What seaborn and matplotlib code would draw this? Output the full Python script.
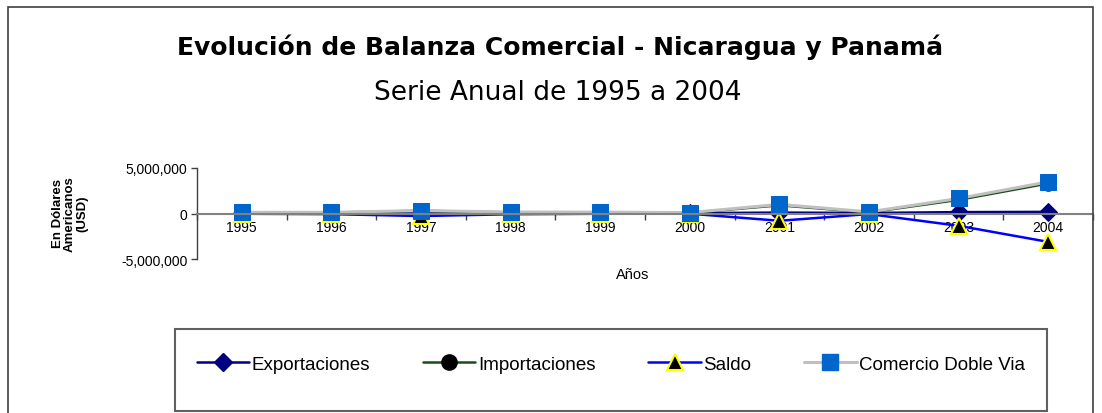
import matplotlib
matplotlib.use("Agg")
import matplotlib.pyplot as plt
import seaborn as sns
import pandas as pd
import numpy as np
from matplotlib.patches import Rectangle
from matplotlib.lines import Line2D
from matplotlib.ticker import FuncFormatter, FixedLocator

years = ["1995", "1996", "1997", "1998", "1999", "2000", "2001", "2002", "2003", "2004"]
exportaciones = [50000, 30000, 20000, 40000, 60000, 40000, 100000, 60000, 150000, 180000]
importaciones = [80000, 100000, 300000, 120000, 90000, 60000, 900000, 120000, 1500000, 3300000]
saldo = [-30000, -70000, -280000, -80000, -30000, -20000, -800000, -60000, -1350000, -3120000]
comercio = [130000, 130000, 320000, 160000, 150000, 100000, 1000000, 180000, 1650000, 3480000]

title = "Evolución de Balanza Comercial - Nicaragua y Panamá"
subtitle = "Serie Anual de 1995 a 2004"
ylabel = "En Dólares\nAmericanos\n(USD)"
xlabel = "Años"

sns.set_theme(style="white")
plt.rcParams['font.family'] = ['Liberation Sans', 'DejaVu Sans']
plt.rcParams['text.color'] = 'black'
plt.rcParams['xtick.color'] = 'black'
plt.rcParams['ytick.color'] = 'black'

W, H = 1102, 414
fig = plt.figure(figsize=(W / 100, H / 100), dpi=100)
ax = fig.add_axes([197 / W, 1 - 260 / H, (1093 - 197) / W, (260 - 169) / H])

df = pd.DataFrame({"Año": years, "Exportaciones": exportaciones, "Importaciones": importaciones,
                   "Saldo": saldo, "Comercio Doble Via": comercio})
df["x"] = np.arange(len(years))

series = [
    ("Exportaciones", dict(color="#000080", marker="D", markersize=9, markerfacecolor="#000080",
                           markeredgecolor="#000080", linewidth=1.8)),
    ("Importaciones", dict(color="#1a4d1a", marker="o", markersize=11, markerfacecolor="black",
                           markeredgecolor="black", linewidth=1.8)),
    ("Saldo", dict(color="#0000FF", marker="^", markersize=12, markerfacecolor="black",
                   markeredgecolor="#FFFF00", markeredgewidth=1.5, linewidth=1.8)),
    ("Comercio Doble Via", dict(color="#C0C0C0", marker="s", markersize=11.5, markerfacecolor="#0066CC",
                                markeredgecolor="#0066CC", linewidth=2.2)),
]
handles = []
for name, st in series:
    sns.lineplot(data=df, x="x", y=name, ax=ax, label=None, legend=False, **st)
    handles.append(Line2D([], [], label=name, **st))

ax.set_xlim(-0.5, len(years) - 0.5)
ax.set_ylim(-5000000, 5000000)
ax.set_yticks([-5000000, 0, 5000000])
ax.yaxis.set_major_formatter(FuncFormatter(lambda v, p: f"{int(v):,}"))

for s in ["top", "right"]:
    ax.spines[s].set_visible(False)
ax.spines["bottom"].set_position(("data", 0))
ax.spines["bottom"].set_color("#808080")
ax.spines["bottom"].set_linewidth(1.5)
ax.spines["left"].set_color("#404040")
ax.spines["left"].set_linewidth(1.0)

ax.xaxis.set_major_locator(FixedLocator(np.arange(len(years) + 1) - 0.5))
ax.xaxis.set_minor_locator(FixedLocator(np.arange(len(years))))
ax.xaxis.set_major_formatter(FuncFormatter(lambda v, p: ""))
ax.xaxis.set_minor_formatter(FuncFormatter(lambda v, p: years[int(round(v))] if 0 <= round(v) < len(years) else ""))
ax.tick_params(axis="x", which="major", direction="out", length=4, color="#404040", width=1, bottom=True)
ax.tick_params(axis="x", which="minor", length=0, labelsize=10, pad=5, labelcolor="black")
ax.tick_params(axis="y", direction="out", length=4, color="#404040", width=1, left=True,
               labelsize=10, pad=3, labelcolor="black")
ax.set_xlabel("")
ax.set_ylabel("")
ax.patch.set_alpha(0)

fig.text(633 / W, 1 - 275 / H, xlabel, ha="center", va="center", fontsize=10.5)
fig.text(70 / W, 1 - 214 / H, ylabel, ha="center", va="center", rotation=90, fontsize=9.5,
         fontweight="bold", linespacing=1.0)

fig.text(560 / W, 1 - 47 / H, title, ha="center", va="center", fontsize=18, fontweight="bold",
         family=["DejaVu Sans"])
fig.text(558 / W, 1 - 93 / H, subtitle, ha="center", va="center", fontsize=19,
         family=["DejaVu Sans"])

# outer border
fig.patches.append(Rectangle((8 / W, -0.2), (1093 - 8) / W, 1.2 - 8 / H, transform=fig.transFigure,
                             fill=False, edgecolor="#404040", linewidth=1.2))
# legend box
fig.patches.append(Rectangle((175 / W, 1 - 412 / H), (1047 - 175) / W, (412 - 330) / H,
                             transform=fig.transFigure, fill=False, edgecolor="#606060", linewidth=1.5))
fig.legend(handles=handles, loc="center", bbox_to_anchor=(611 / W, 1 - 365 / H), ncol=4,
           frameon=False, fontsize=13.5, handlelength=2.8, handletextpad=0.15, columnspacing=2.8)

fig.savefig("out.png", dpi=100)
